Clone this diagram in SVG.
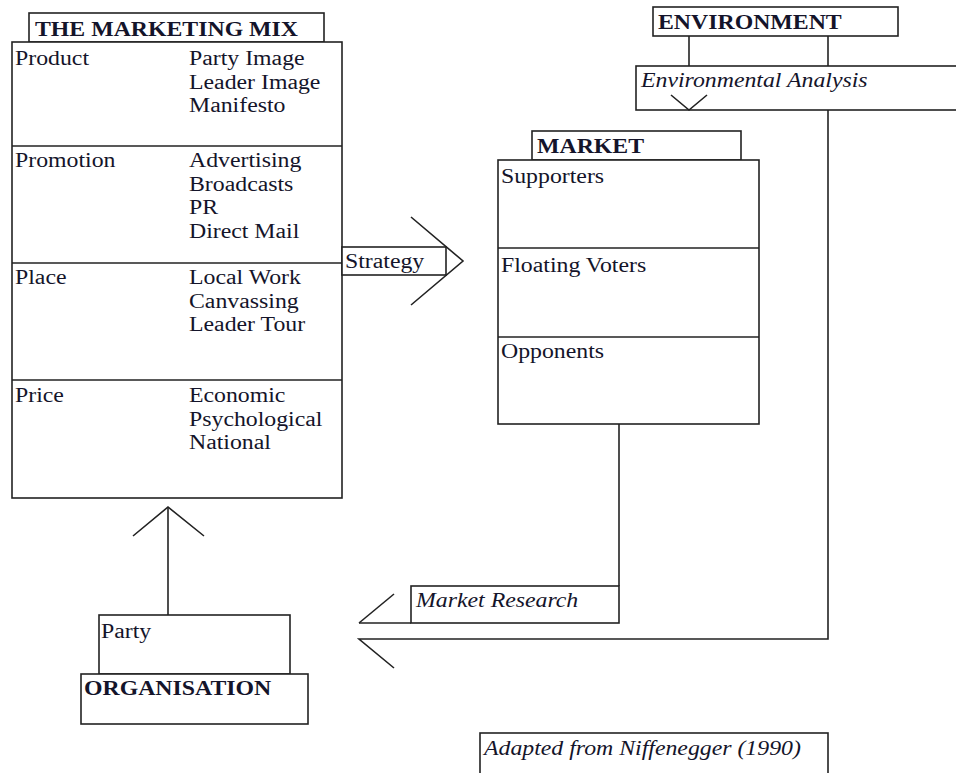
<svg xmlns="http://www.w3.org/2000/svg" width="956" height="773" viewBox="0 0 956 773">
<style>
rect, line, polyline { fill: none; stroke: #222; stroke-width: 1.6; }
rect.box { fill: #fff; }
text { font-family: "Liberation Serif", "Times New Roman", serif; font-size: 20px; fill: #14142a; }
.b { font-weight: bold; }
.i { font-style: italic; }
</style>
<rect x="0" y="0" width="956" height="773" style="fill:#fff;stroke:none"/>

<g id="connectors">
  <!-- Organisation to Marketing Mix -->
  <line x1="168" y1="507" x2="168" y2="615"/>
  <polyline points="133,536 168,507 204,536"/>
  <!-- Strategy arrow -->
  <polyline points="411,217 463,261 411,305"/>
  <!-- Environment to Environmental Analysis -->
  <line x1="689" y1="36" x2="689" y2="66"/>
  <line x1="828" y1="36" x2="828" y2="66"/>
  <polyline points="671,95 689,110 707,95"/>
  <!-- Market to Market Research -->
  <line x1="619" y1="424" x2="619" y2="586"/>
  <!-- Feedback arrow -->
  <line x1="359" y1="623" x2="411" y2="623"/>
  <polyline points="394,594 359,623"/>
  <polyline points="828,110 828,639 359,639 394,668"/>
</g>

<g id="marketing-mix">
  <rect class="box" x="29" y="13" width="295" height="29"/>
  <text class="b" transform="translate(35,36) scale(1.19 1)">THE MARKETING MIX</text>
  <rect class="box" x="12" y="42" width="330" height="456"/>
  <line x1="12" y1="146" x2="342" y2="146"/>
  <line x1="12" y1="263" x2="342" y2="263"/>
  <line x1="12" y1="380" x2="342" y2="380"/>
  <text transform="translate(15,65) scale(1.19 1)">Product</text>
  <text transform="translate(189,65) scale(1.19 1)">Party Image</text>
  <text transform="translate(189,88.5) scale(1.19 1)">Leader Image</text>
  <text transform="translate(189,112) scale(1.19 1)">Manifesto</text>
  <text transform="translate(15,167) scale(1.19 1)">Promotion</text>
  <text transform="translate(189,167) scale(1.19 1)">Advertising</text>
  <text transform="translate(189,190.5) scale(1.19 1)">Broadcasts</text>
  <text transform="translate(189,214) scale(1.19 1)">PR</text>
  <text transform="translate(189,237.5) scale(1.19 1)">Direct Mail</text>
  <text transform="translate(15,284) scale(1.19 1)">Place</text>
  <text transform="translate(189,284) scale(1.19 1)">Local Work</text>
  <text transform="translate(189,307.5) scale(1.19 1)">Canvassing</text>
  <text transform="translate(189,331) scale(1.19 1)">Leader Tour</text>
  <text transform="translate(15,402) scale(1.19 1)">Price</text>
  <text transform="translate(189,402) scale(1.19 1)">Economic</text>
  <text transform="translate(189,425.5) scale(1.19 1)">Psychological</text>
  <text transform="translate(189,449) scale(1.19 1)">National</text>
</g>

<g id="strategy">
  <rect class="box" x="342" y="247" width="104" height="28"/>
  <text transform="translate(345,268) scale(1.19 1)">Strategy</text>
</g>

<g id="market">
  <rect class="box" x="532" y="131" width="209" height="29"/>
  <text class="b" transform="translate(537,153) scale(1.19 1)">MARKET</text>
  <rect class="box" x="498" y="160" width="261" height="264"/>
  <line x1="498" y1="248" x2="759" y2="248"/>
  <line x1="498" y1="337" x2="759" y2="337"/>
  <text transform="translate(501,183) scale(1.19 1)">Supporters</text>
  <text transform="translate(501,272) scale(1.19 1)">Floating Voters</text>
  <text transform="translate(501,358) scale(1.19 1)">Opponents</text>
</g>

<g id="environment">
  <rect class="box" x="653" y="7" width="245" height="29"/>
  <text class="b" transform="translate(658,29) scale(1.19 1)">ENVIRONMENT</text>
</g>

<g id="environmental-analysis">
  <rect x="636" y="66" width="330" height="44"/>
  <text class="i" transform="translate(641,87) scale(1.19 1)">Environmental Analysis</text>
</g>

<g id="market-research">
  <rect class="box" x="411" y="586" width="208" height="37"/>
  <text class="i" transform="translate(416,607) scale(1.19 1)">Market Research</text>
</g>

<g id="party">
  <rect class="box" x="99" y="615" width="191" height="59"/>
  <text transform="translate(101,638) scale(1.19 1)">Party</text>
</g>

<g id="organisation">
  <rect class="box" x="81" y="674" width="227" height="50"/>
  <text class="b" transform="translate(84,695) scale(1.19 1)">ORGANISATION</text>
</g>

<g id="source">
  <rect class="box" x="480" y="733" width="348" height="60"/>
  <text class="i" transform="translate(484,755) scale(1.19 1)">Adapted from Niffenegger (1990)</text>
</g>
</svg>
